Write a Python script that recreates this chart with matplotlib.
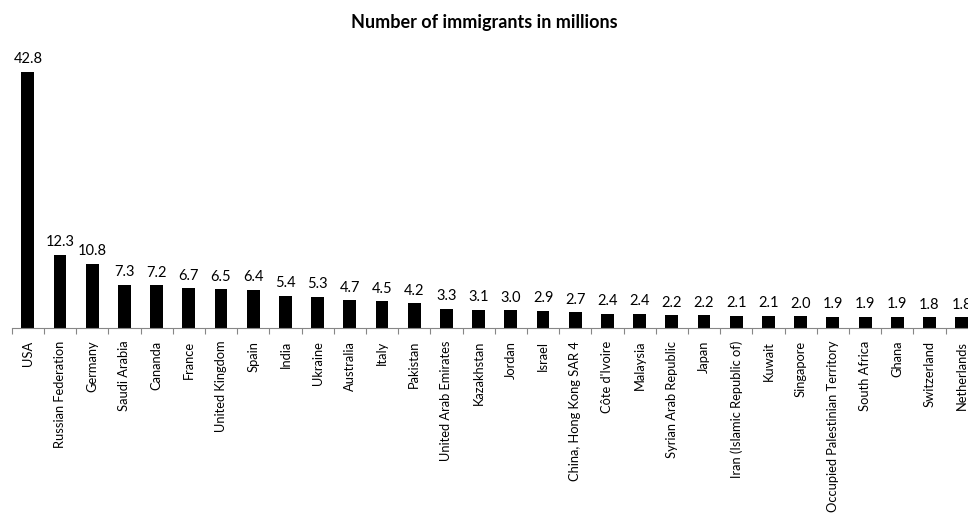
import matplotlib.pyplot as plt
import numpy as np

plt.rcParams['font.family'] = ['Lato', 'DejaVu Sans']

countries = ['USA', 'Russian Federation', 'Germany', 'Saudi Arabia', 'Cananda', 'France',
             'United Kingdom', 'Spain', 'India', 'Ukraine', 'Australia', 'Italy', 'Pakistan',
             'United Arab Emirates', 'Kazakhstan', 'Jordan', 'Israel', 'China, Hong Kong SAR 4',
             "Côte d'Ivoire", 'Malaysia', 'Syrian Arab Republic', 'Japan',
             'Iran (Islamic Republic of)', 'Kuwait', 'Singapore', 'Occupied Palestinian Territory',
             'South Africa', 'Ghana', 'Switzerland', 'Netherlands']
immigrants = [42.8, 12.3, 10.8, 7.3, 7.2, 6.7, 6.5, 6.4, 5.4, 5.3, 4.7, 4.5, 4.2,
              3.3, 3.1, 3.0, 2.9, 2.7, 2.4, 2.4, 2.2, 2.2, 2.1, 2.1, 2.0, 1.9,
              1.9, 1.9, 1.8, 1.8]

fig = plt.figure(figsize=(9.68, 5.14), dpi=100)
# plot area runs a little past the right edge, so the last bar is cut off
ax = fig.add_axes([0.0121, 0.3613, 0.998, 0.525])

x = np.arange(len(countries))
bars = ax.bar(x, immigrants, width=0.4, color='black')
for b, v in zip(bars, immigrants):
    ax.annotate('{:.1f}'.format(v), (b.get_x() + b.get_width() / 2, v),
                xytext=(0, 4), textcoords='offset points',
                ha='center', va='bottom', fontsize=10.5, annotation_clip=False)

ax.set_xlim(-0.5, len(countries) - 0.5)
ax.set_ylim(0, 45)

for s in ['top', 'right', 'left']:
    ax.spines[s].set_visible(False)
ax.spines['bottom'].set_color('#868686')
ax.set_yticks([])

# category ticks sit between bars, labels under the bars
ax.set_xticks(np.arange(-0.5, len(countries), 1))
ax.set_xticklabels([])
ax.tick_params(axis='x', which='major', length=4, color='#868686', direction='out')
ax.set_xticks(x, minor=True)
ax.set_xticklabels(countries, minor=True, rotation=90, fontsize=9.3, va='top', ha='center')
ax.tick_params(axis='x', which='minor', length=0, pad=9)

fig.text(0.5, 0.957, 'Number of immigrants in millions', ha='center', va='center',
         fontsize=13, fontweight='bold')

fig.savefig('out.png', dpi=100)
